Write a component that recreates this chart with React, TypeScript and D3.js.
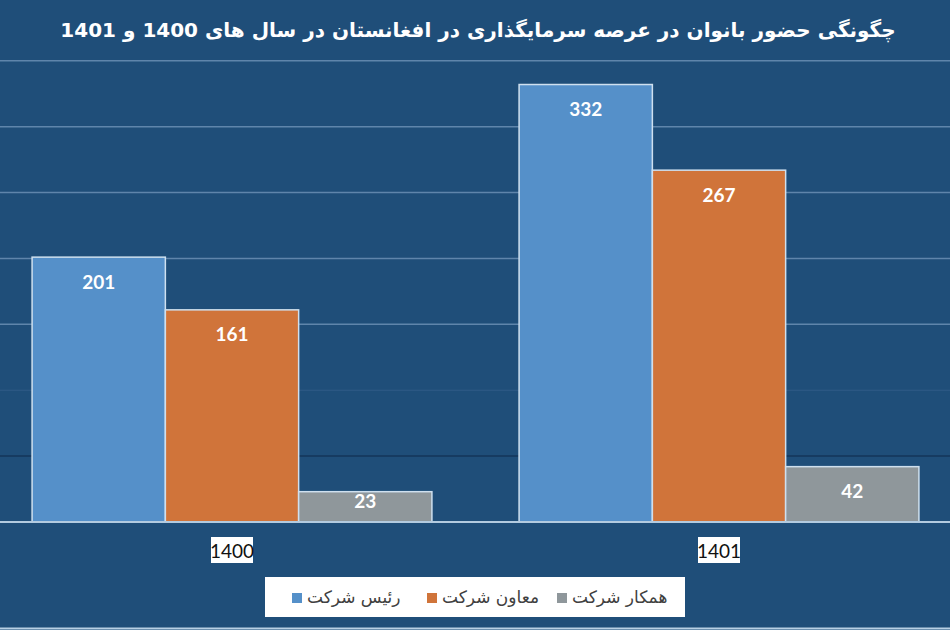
import React from "react";
import * as d3 from "d3";

const years = ["1400", "1401"];
const seriesNames = ["رئیس شرکت", "معاون شرکت", "همکار شرکت"];
const ceoValues = [201, 332];
const deputyValues = [161, 267];
const staffValues = [23, 42];
const yTicks = [0, 50, 100, 150, 200, 250, 300, 350];
const title = "چگونگی حضور بانوان در عرصه سرمایگذاری در افغانستان در سال های 1400 و 1401";

const W = 950;
const H = 630;
const colors = ["#5590C9", "#D0743A", "#8F979B"];

export default function App() {
  const series = [ceoValues, deputyValues, staffValues];
  const x0 = d3.scaleBand<string>().domain(years).range([-11.5, 962.5]).paddingInner(0.179).paddingOuter(0.0895);
  const x1 = d3.scaleBand<number>().domain([0, 1, 2]).range([0, x0.bandwidth()]);
  const y = d3.scaleLinear().domain([0, 350]).range([522, 60.8]);
  const base = y(0);

  const gridStyle = (t: number) => {
    if (t === 50) return { stroke: "#15365a", width: 1.5, op: 1 };
    if (t === 100) return { stroke: "#3c6690", width: 1, op: 0.6 };
    return { stroke: "#5f85ab", width: 1.5, op: 1 };
  };

  return (
    <svg width={W} height={H} style={{ position: "absolute", left: 0, top: 0, display: "block" }}>
      <rect x={0} y={0} width={W} height={H} fill="#1F4E79" />
      <text x={478} y={37} textAnchor="middle" fill="#ffffff" fontFamily="DejaVu Sans, sans-serif" fontWeight="bold" fontSize={20}>
        {title}
      </text>
      {yTicks.filter((t) => t > 0).map((t) => {
        const s = gridStyle(t);
        return <line key={t} x1={0} x2={W} y1={y(t)} y2={y(t)} stroke={s.stroke} strokeWidth={s.width} opacity={s.op} />;
      })}
      {years.map((yr, gi) => (
        <g key={yr} transform={`translate(${x0(yr)},0)`}>
          {series.map((vals, si) => {
            const v = vals[gi];
            const top = y(v);
            const bx = x1(si)!;
            const bw = x1.bandwidth();
            const ly = Math.min(top + 24, base - 22);
            return (
              <g key={si}>
                <rect x={bx} y={top} width={bw} height={base - top} fill={colors[si]} stroke="#cfe0ef" strokeWidth={1.5} />
                <text x={bx + bw / 2} y={ly} textAnchor="middle" dominantBaseline="central" fill="#ffffff" fontFamily="Lato, sans-serif" fontWeight="bold" fontSize={19}>
                  {v}
                </text>
              </g>
            );
          })}
        </g>
      ))}
      <line x1={0} x2={W} y1={base} y2={base} stroke="#b3cbe0" strokeWidth={2} />
      {years.map((yr) => {
        const cx = x0(yr)! + x0.bandwidth() / 2;
        return (
          <g key={yr}>
            <rect x={cx - 21} y={537} width={42} height={26} fill="#ffffff" />
            <text x={cx} y={550} textAnchor="middle" dominantBaseline="central" fill="#111111" fontFamily="Lato, sans-serif" fontSize={19}>
              {yr}
            </text>
          </g>
        );
      })}
      <rect x={265} y={577} width={420} height={40} fill="#ffffff" />
      {seriesNames.map((name, i) => {
        const sx = [292, 427, 557][i];
        return (
          <g key={name}>
            <rect x={sx} y={593} width={10} height={10} fill={colors[i]} />
            <text x={sx + 15} y={597} textAnchor="start" dominantBaseline="central" fill="#404040" fontFamily="DejaVu Sans, sans-serif" fontSize={17}>
              {name}
            </text>
          </g>
        );
      })}
      <line x1={0} x2={W} y1={628.5} y2={628.5} stroke="#b8d0e4" strokeWidth={2} />
    </svg>
  );
}
